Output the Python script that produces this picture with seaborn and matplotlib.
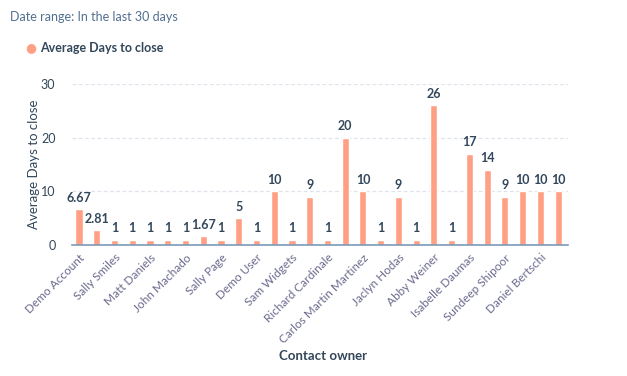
import numpy as np
import pandas as pd
import matplotlib
matplotlib.use("Agg")
import matplotlib.pyplot as plt
import seaborn as sns

# every other bar carries a visible name on the axis
shown_labels = ["Demo Account", "Sally Smiles", "Matt Daniels", "John Machado",
                "Sally Page", "Demo User", "Sam Widgets", "Richard Cardinale",
                "Carlos Martin Martinez", "Jaclyn Hodas", "Abby Weiner",
                "Isabelle Daumas", "Sundeep Shipoor", "Daniel Bertschi"]
avg_days = [6.67, 2.81, 1, 1, 1, 1, 1, 1.67, 1, 5, 1, 10, 1, 9,
            1, 20, 10, 1, 9, 1, 26, 1, 17, 14, 9, 10, 10, 10]
value_text = ["6.67", "2.81", "1", "1", "1", "1", "1", "1.67", "1", "5", "1", "10", "1", "9",
              "1", "20", "10", "1", "9", "1", "26", "1", "17", "14", "9", "10", "10", "10"]
y_ticks = [0, 10, 20, 30]

bar_color = "#ffa085"
ink = "#33475b"
soft = "#516f90"

sns.set_theme(style="white")
plt.rcParams["font.family"] = ["Lato", "DejaVu Sans"]

df = pd.DataFrame({"pos": np.arange(len(avg_days)), "days": avg_days})

fig = plt.figure(figsize=(6.27, 3.76), dpi=100)
ax = fig.add_axes([0.115, 0.348, 0.791, 0.429])

sns.barplot(data=df, x="pos", y="days", color=bar_color, width=0.4,
            saturation=1, errorbar=None, ax=ax, zorder=3)

ax.set_ylim(0, 30)
ax.set_xlim(-0.39, len(avg_days) - 0.44)
ax.set_yticks(y_ticks)
ax.set_yticklabels([str(t) for t in y_ticks], color=ink, fontsize=9)
ax.tick_params(axis="y", length=0, pad=12)
for t in y_ticks[1:]:
    ax.axhline(t, color="#dfe3eb", lw=0.9, ls=(0, (3, 2)), zorder=1)

ax.set_xticks(np.arange(0, len(avg_days), 2))
ax.set_xticklabels(shown_labels, rotation=45, ha="right", rotation_mode="anchor",
                   color="#6a6a8e", fontsize=8.5)
ax.tick_params(axis="x", length=0, pad=5)

for s in ["top", "right", "left"]:
    ax.spines[s].set_visible(False)
ax.spines["bottom"].set_color("#7c98b6")
ax.spines["bottom"].set_linewidth(1.2)
ax.spines["bottom"].set_zorder(5)

for i, (v, txt) in enumerate(zip(avg_days, value_text)):
    ax.text(i, v + 1.0, txt, ha="center", va="bottom", fontsize=9,
            fontweight="bold", color=ink)

ax.set_ylabel("Average Days to close", color=ink, fontsize=9.5, labelpad=1)
ax.set_xlabel("Contact owner", color=ink, fontsize=9.5, fontweight="bold")
ax.xaxis.set_label_coords(0.505, -0.65)

fig.text(10 / 627, 1 - 17 / 376, "Date range: In the last 30 days", color=soft,
         fontsize=9, va="center", ha="left")
fig.text(31 / 627, 1 - 48 / 376, "\u25cf", color=bar_color, fontsize=9,
         va="center", ha="center", family=["DejaVu Sans"])
fig.text(40 / 627, 1 - 48 / 376, "Average Days to close", color=ink,
         fontsize=9, fontweight="bold", va="center", ha="left")

fig.savefig("out.png", dpi=100)
